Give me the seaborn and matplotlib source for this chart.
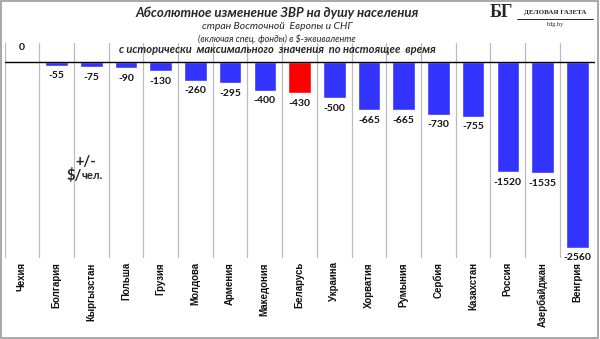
import matplotlib
matplotlib.use("Agg")
import matplotlib.pyplot as plt
import seaborn as sns
import pandas as pd
from matplotlib.patches import Rectangle

countries = ["Чехия", "Болгария", "Кыргызстан", "Польша", "Грузия", "Молдова",
             "Армения", "Македония", "Беларусь", "Украина", "Хорватия", "Румыния",
             "Сербия", "Казахстан", "Россия", "Азербайджан", "Венгрия"]
values = [0, -55, -75, -90, -130, -260, -295, -400, -430, -500, -665, -665,
          -730, -755, -1520, -1535, -2560]
highlight = "Беларусь"

sns.set_theme(style="white")
plt.rcParams['font.family'] = ['Liberation Sans', 'DejaVu Sans']
TF = ['Lato', 'Liberation Sans', 'DejaVu Sans']

df = pd.DataFrame({"country": countries, "value": values})
palette = {c: ("#FF0000" if c == highlight else "#3333FF") for c in countries}

fig = plt.figure(figsize=(6, 3.39), dpi=100)
ax = fig.add_axes([0.0075, 0.239, 0.9835, 0.634])
sns.barplot(data=df, x="country", y="value", hue="country", palette=palette,
            legend=False, width=0.65, saturation=1, ax=ax, zorder=3)

n = len(countries)
ax.set_xlim(-0.5, n - 0.5)
ax.set_ylim(-2700, 257)
for i in range(n + 1):
    ax.axvline(i - 0.5, color="#BBBBBB", lw=0.9, zorder=1)
ax.axhline(0, color="black", lw=1.0, zorder=4)
for s in ax.spines.values():
    s.set_visible(False)
ax.set_yticks([])
ax.set_xlabel("")
ax.set_ylabel("")
ax.tick_params(axis="x", length=0, pad=3)
ax.set_xticks(range(n))
ax.set_xticklabels(countries, rotation=90, fontsize=7, fontweight="bold",
                   color="#111111", va="top")

for i, v in enumerate(values):
    if v == 0:
        ax.annotate(str(v), (i, v), xytext=(0, 7), textcoords="offset points",
                    ha="center", va="bottom", fontsize=7.5, fontweight="bold",
                    color="#111111", family=TF)
    else:
        ax.annotate(str(v), (i, v), xytext=(0, -4), textcoords="offset points",
                    ha="center", va="top", fontsize=7.5, fontweight="bold",
                    color="#111111", family=TF)

ax.text(1.85, -1380, "+/-", ha="center", va="center", fontsize=10.5, fontweight="bold", family=TF)
ax.text(1.72, -1570, "$/", ha="right", va="center", fontsize=10.5, fontweight="bold", family=TF)
ax.text(1.72, -1570, "чел.", ha="left", va="center", fontsize=8, fontweight="bold", family=TF)

fig.text(0.462, 0.963, "Абсолютное изменение ЗВР на душу населения", ha="center", va="center",
         fontsize=9.5, fontweight="bold", fontstyle="italic", family=TF)
fig.text(0.462, 0.922, "стран Восточной  Европы и СНГ", ha="center", va="center",
         fontsize=7.5, fontstyle="italic", family=TF)
fig.text(0.462, 0.885, "(включая спец. фонды) в $-эквиваленте", ha="center", va="center",
         fontsize=6.5, fontstyle="italic", family=TF)
fig.text(0.462, 0.853, "с исторически  максимального  значения  по настоящее  время", ha="center",
         va="center", fontsize=8, fontstyle="italic", fontweight="bold", family=TF)

fig.text(0.835, 0.962, "БГ", ha="center", va="center", fontsize=13, fontweight="bold",
         family=["Liberation Serif", "DejaVu Serif"])
fig.text(0.925, 0.962, "ДЕЛОВАЯ ГАЗЕТА", ha="center", va="center", fontsize=5,
         fontweight="bold", family=["Liberation Serif", "DejaVu Serif"])
fig.add_artist(plt.Line2D([0.862, 0.988], [0.945, 0.945], transform=fig.transFigure,
                          color="black", lw=0.6))
fig.text(0.925, 0.928, "bdg.by", ha="center", va="center", fontsize=4.5,
         family=["Liberation Serif", "DejaVu Serif"])

fig.patches.append(Rectangle((0.001, 0.002), 0.996, 0.995, transform=fig.transFigure,
                             fill=False, edgecolor="#999999", lw=1.2, zorder=10))

fig.savefig("out.png", dpi=100)
